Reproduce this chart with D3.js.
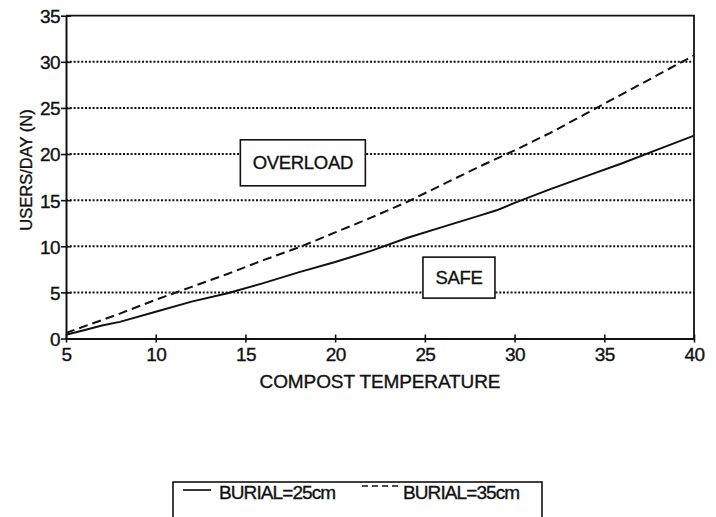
<!DOCTYPE html>
<html><head><meta charset="utf-8">
<script src="https://cdn.jsdelivr.net/npm/d3@7"></script>
<style>
body{margin:0;background:#fff;}
svg{display:block;}
text{font-family:"Liberation Sans",Arial,Helvetica,sans-serif;fill:#111;stroke:#111;stroke-width:0.35px;}
</style></head>
<body><svg id="c" width="716" height="517"></svg>
<script>
const temps25 = [5,6,7,8,10,12,14,16,18,20,22,24,26,28,29,30,32,34,36,38,40];
const users25 = [0.4,0.9,1.4,1.8,2.9,4.0,4.9,6.0,7.2,8.3,9.5,10.9,12.1,13.3,13.9,14.7,16.2,17.6,19.0,20.5,22.0];
const temps35 = [5,8,10,12,14,16,18,20,22,24,26,28,30,32,34,36,38,40];
const users35 = [0.6,2.7,4.2,5.6,7.0,8.5,9.9,11.5,13.1,14.8,16.7,18.6,20.4,22.3,24.4,26.5,28.6,30.7];
const xTicks = [5,10,15,20,25,30,35,40];
const yTicks = [0,5,10,15,20,25,30,35];
const gridVals = [5,10,15,20,25,30];
const seriesNames = ["BURIAL=25cm","BURIAL=35cm"];
const xTitle = "COMPOST TEMPERATURE";
const yTitle = "USERS/DAY (N)";
const regionLabels = [{text:"OVERLOAD", x:18.2, y:19.05}, {text:"SAFE", x:26.9, y:6.6}];

const svg = d3.select("#c");
const x = d3.scaleLinear().domain([5,40]).range([66,694]);
const y = d3.scaleLinear().domain([0,35]).range([338.5,15.7]);
const ink = "#111";

// grid
svg.append("g").selectAll("line").data(gridVals).join("line")
  .attr("x1",x(5)).attr("x2",x(40)).attr("y1",d=>y(d)).attr("y2",d=>y(d))
  .attr("stroke",ink).attr("stroke-width",2).attr("stroke-dasharray","2,1.8");

// frame
svg.append("path").attr("d",`M${x(5)},${y(35)}H${x(40)}V${y(0)}`)
  .attr("fill","none").attr("stroke",ink).attr("stroke-width",1.8);

// lines
const line = d3.line().x(d=>x(d[0])).y(d=>y(d[1]));
svg.append("path").datum(temps25.map((t,i)=>[t,users25[i]]))
  .attr("d",line).attr("fill","none").attr("stroke",ink).attr("stroke-width",2);
svg.append("path").datum(temps35.map((t,i)=>[t,users35[i]]))
  .attr("d",line).attr("fill","none").attr("stroke",ink).attr("stroke-width",2)
  .attr("stroke-dasharray","9,5");

// axes
const ya = svg.append("g").attr("transform",`translate(${x(5)},0)`)
  .call(d3.axisLeft(y).tickValues(yTicks).tickSize(5).tickPadding(1).tickSizeOuter(0));
ya.selectAll(".tick line").attr("x2",5).attr("x1",-5);
const xa = svg.append("g").attr("transform",`translate(0,${y(0)})`)
  .call(d3.axisBottom(x).tickValues(xTicks).tickSize(4).tickPadding(5).tickSizeOuter(0));
xa.selectAll(".tick line").attr("y1",-4).attr("y2",4);
[ya,xa].forEach(a=>{
  a.select(".domain").attr("stroke",ink).attr("stroke-width",2);
  a.selectAll(".tick line").attr("stroke",ink).attr("stroke-width",1.6);
  a.selectAll("text").attr("font-size",19).attr("fill",ink).attr("stroke",ink).attr("stroke-width",0.35)
    .style("font-family",'"Liberation Sans",Arial,sans-serif').attr("letter-spacing","-0.6");
});
ya.selectAll("text").attr("dy","0.36em");
xa.selectAll("text").attr("dy","0.7em");

// titles
svg.append("text").attr("x",380).attr("y",388).attr("text-anchor","middle")
  .attr("font-size",19).attr("letter-spacing","-0.1").text(xTitle);
svg.append("text").attr("transform","translate(32,170) rotate(-90)").attr("text-anchor","middle")
  .attr("font-size",16.5).text(yTitle);

// region label boxes
const boxes = [{w:125,h:46},{w:72,h:41}];
regionLabels.forEach((r,i)=>{
  const cx = x(r.x), cy = y(r.y);
  const b = boxes[i];
  svg.append("rect").attr("x",cx-b.w/2).attr("y",cy-b.h/2).attr("width",b.w).attr("height",b.h)
    .attr("fill","#fff").attr("stroke",ink).attr("stroke-width",1.6);
  svg.append("text").attr("x",cx).attr("y",cy).attr("dy","0.36em").attr("text-anchor","middle")
    .attr("font-size",18.5).attr("letter-spacing","-0.3").text(r.text);
});

// legend
svg.append("rect").attr("x",173).attr("y",482).attr("width",369).attr("height",45)
  .attr("fill","none").attr("stroke",ink).attr("stroke-width",1.6);
svg.append("line").attr("x1",183).attr("x2",211).attr("y1",490).attr("y2",490)
  .attr("stroke",ink).attr("stroke-width",1.7);
svg.append("text").attr("x",219).attr("y",499).attr("font-size",19).attr("letter-spacing","-0.9").text(seriesNames[0]);
svg.append("line").attr("x1",362).attr("x2",400).attr("y1",486).attr("y2",486)
  .attr("stroke",ink).attr("stroke-width",1.7).attr("stroke-dasharray","6,4");
svg.append("text").attr("x",403).attr("y",499).attr("font-size",19).attr("letter-spacing","-0.9").text(seriesNames[1]);
</script></body></html>
